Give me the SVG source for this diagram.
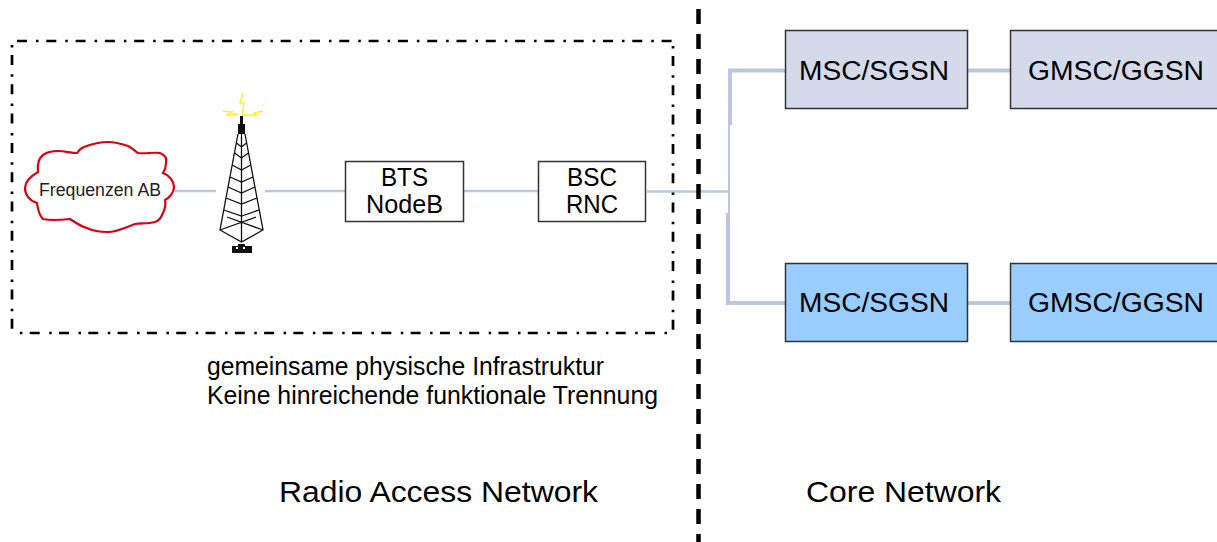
<svg xmlns="http://www.w3.org/2000/svg" width="1217" height="542" viewBox="0 0 1217 542">
<style>
text{font-family:"Liberation Sans",Arial,sans-serif;fill:#000;text-anchor:start}
.lbl{font-size:25px}
.mid{font-size:27px}
.big{font-size:30px}
.note{font-size:25px}
.box{stroke:#333;stroke-width:1.500}
.link{fill:none;stroke:#bcc6e0}
.tw{fill:none;stroke:#111;stroke-width:1.300}
.sp{fill:none;stroke:#ffee22;stroke-width:1.300}
.frame{fill:none;stroke:#000;stroke-width:2.700}
</style>
<rect width="1217" height="542" fill="#fff"/>
<g id="connectors">
<path class="link" stroke-width="2.500" d="M175 191H216M265 191H345M463 191H539M647 191.500H728"/>
<path class="link" stroke-width="2" d="M729 125V213"/>
<path class="link" stroke-width="4" d="M730 125V70.500H786M968 70.500H1011M728 213V303H786M968 303H1011"/>
</g>
<g id="region">
<path class="frame" stroke-dasharray="10 9 2.500 7.800" d="M17 41H673"/>
<path class="frame" stroke-dasharray="2.500 7.500 10 9.300" d="M12 45V333"/>
<path class="frame" stroke-dasharray="2.500 7.500 10 9.300" d="M673 46V332"/>
<path class="frame" stroke-dasharray="2.500 9.500 10 7.300" d="M667 333H12"/>
</g>
<g id="divider">
<path d="M698.500 9V542" fill="none" stroke="#000" stroke-width="4.500" stroke-dasharray="15 10"/>
</g>
<g id="cloud">
<path fill="#fff" stroke="#dd0011" stroke-width="2.200" d="M38 172C37 162 39 158 43 155C47 152 53 151 58 151C65 151 71 153 77 153C79 150 81 148 84 147C92 144 100 142 108 142C115 142 122 144 128 146C132 148 135 151 138 153C145 154 153 152 160 153C165 155 167 159 166 163C166 167 165 170 163 173C169 175 174 181 174 187C174 193 169 198 165 200C166 205 165 209 163 213C161 218 159 221 155 222C148 224 141 223 135 224C126 227 117 232 108 232C100 232 93 231 87 228C80 226 75 222 70 219C61 220 52 221 43 219C38 214 38 208 37 203C30 201 25 195 25 188C25 181 31 176 38 172Z"/>
<text x="39" y="196" font-size="17.500" textLength="122" lengthAdjust="spacingAndGlyphs" style="fill:#222">Frequenzen AB</text>
</g>
<g id="tower">
<path class="tw" d="M238 134L220 230L241.500 242L263 230L245 134M241.500 122V242M220 230L256 217M263 230L227 217"/>
<path class="tw" d="M236.500 143L241.500 147L246.500 143M234.600 153L241.500 158L248.400 153M232.300 165L241.500 170L250.700 165M230 177L241.500 182L253 177M228.100 187L241.500 193L254.900 187M226 198L241.500 204L257 198M223.800 210L241.500 216L259.200 210"/>
<rect x="240" y="116" width="3" height="9" fill="#111"/>
<rect x="238" y="124" width="7" height="10" fill="#111"/>
<path class="sp" d="M243 93L240 103L244 103L242 115M223 111L232 112L226 115L238 114M263 111L254 113L257 115L244 115"/>
<path fill="#111" d="M232 246H238V244H245V246H252V253H232Z"/>
<path fill="#fff" d="M236 247H238V249H236ZM243 247H245V249H243Z"/>
</g>
<g id="bts">
<rect class="box" x="345.500" y="161.500" width="118" height="60" fill="#fff"/>
<text class="lbl" x="381" y="186" textLength="47" lengthAdjust="spacingAndGlyphs">BTS</text>
<text class="lbl" x="366" y="213" textLength="77" lengthAdjust="spacingAndGlyphs">NodeB</text>
</g>
<g id="bsc">
<rect class="box" x="538.500" y="161.500" width="107" height="60" fill="#fff"/>
<text class="lbl" x="567" y="186" textLength="50" lengthAdjust="spacingAndGlyphs">BSC</text>
<text class="lbl" x="566" y="213" textLength="52" lengthAdjust="spacingAndGlyphs">RNC</text>
</g>
<g id="msc1">
<rect class="box" x="785.500" y="30.500" width="182" height="78" fill="#d5daea"/>
<text class="mid" x="799" y="80" textLength="150" lengthAdjust="spacingAndGlyphs">MSC/SGSN</text>
</g>
<g id="gmsc1">
<rect class="box" x="1010.500" y="30.500" width="210" height="78" fill="#d5daea"/>
<text class="mid" x="1028" y="80" textLength="176" lengthAdjust="spacingAndGlyphs">GMSC/GGSN</text>
</g>
<g id="msc2">
<rect class="box" x="785.500" y="263.500" width="182" height="78" fill="#99ccff"/>
<text class="mid" x="799" y="312" textLength="150" lengthAdjust="spacingAndGlyphs">MSC/SGSN</text>
</g>
<g id="gmsc2">
<rect class="box" x="1010.500" y="263.500" width="210" height="78" fill="#99ccff"/>
<text class="mid" x="1028" y="312" textLength="176" lengthAdjust="spacingAndGlyphs">GMSC/GGSN</text>
</g>
<g id="labels">
<text class="note" x="207" y="375" textLength="397" lengthAdjust="spacingAndGlyphs">gemeinsame physische Infrastruktur</text>
<text class="note" x="207" y="404" textLength="451" lengthAdjust="spacingAndGlyphs">Keine hinreichende funktionale Trennung</text>
<text class="big" x="279" y="502" textLength="319" lengthAdjust="spacingAndGlyphs">Radio Access Network</text>
<text class="big" x="806" y="502" textLength="195" lengthAdjust="spacingAndGlyphs">Core Network</text>
</g>
</svg>
